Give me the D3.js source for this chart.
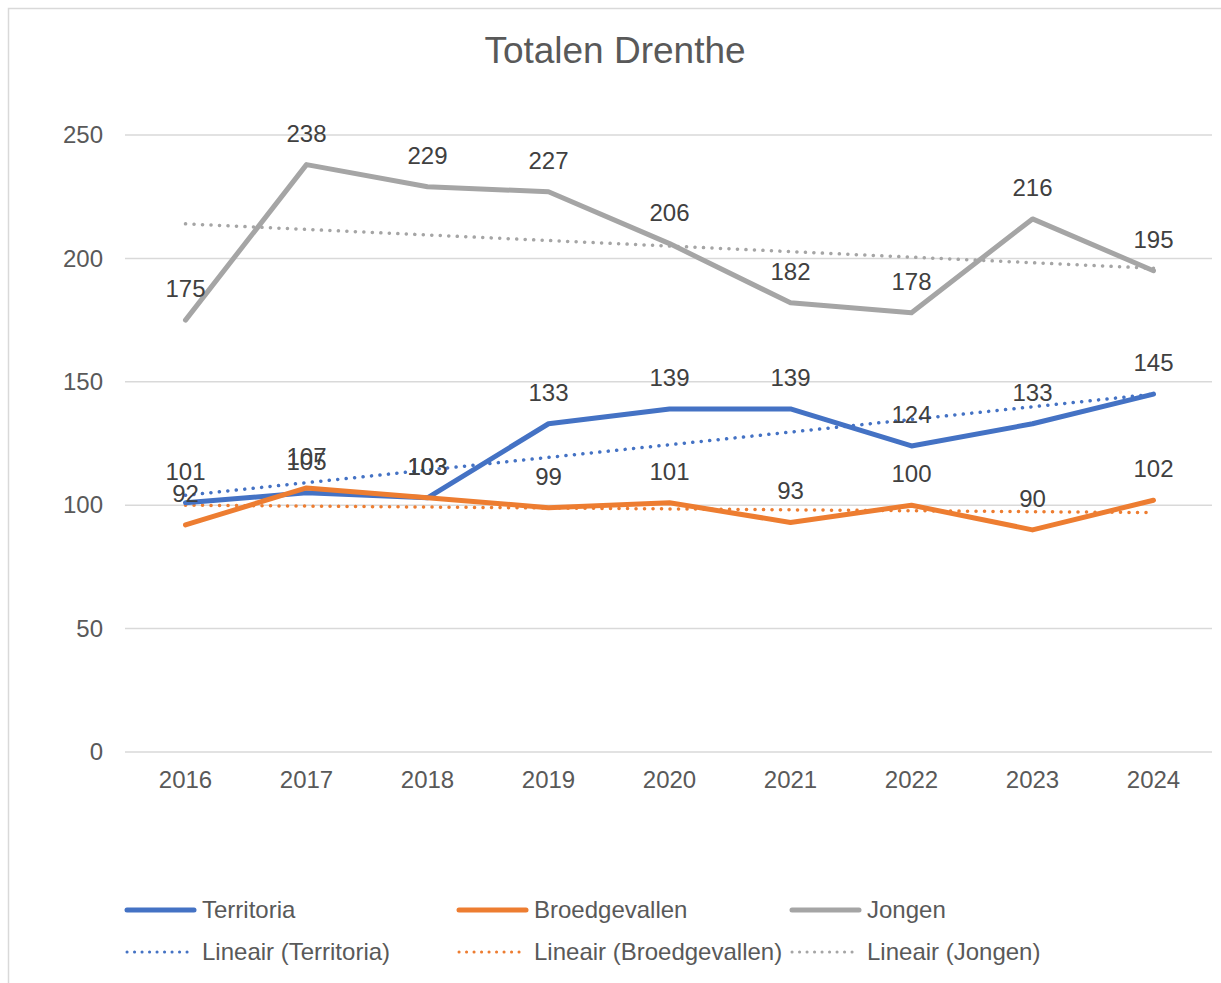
<!DOCTYPE html>
<html>
<head>
<meta charset="utf-8">
<script src="https://cdn.jsdelivr.net/npm/d3@7"></script>
<style>
  body { margin: 0; background: #fff; }
  svg { font-family: "Liberation Sans", Arial, sans-serif; }
</style>
</head>
<body>
<div id="chart-container"></div>
<script>
// Data
const years = ["2016", "2017", "2018", "2019", "2020", "2021", "2022", "2023", "2024"];
const territoria = [101, 105, 103, 133, 139, 139, 124, 133, 145];
const broedgevallen = [92, 107, 103, 99, 101, 93, 100, 90, 102];
const jongen = [175, 238, 229, 227, 206, 182, 178, 216, 195];
// trend line values at first and last year
const trendTerritoria = [104, 145];
const trendBroedgevallen = [100, 97];
const trendJongen = [214, 196];
const yTicks = [0, 50, 100, 150, 200, 250];

const series = [
  {name: "Territoria", values: territoria, trend: trendTerritoria, color: "#4472C4"},
  {name: "Broedgevallen", values: broedgevallen, trend: trendBroedgevallen, color: "#ED7D31"},
  {name: "Jongen", values: jongen, trend: trendJongen, color: "#A5A5A5"}
];

const W = 1221, H = 983;
const plot = {left: 125, right: 1214, top: 135, bottom: 752};
const fontSize = 24;
const font = "'Liberation Sans', Arial, sans-serif";

const svg = d3.select("#chart-container")
  .append("svg")
    .attr("width", W)
    .attr("height", H);

// chart border (only top and left are in view)
svg.append("rect")
  .attr("x", 8.5).attr("y", 8.5)
  .attr("width", 1300).attr("height", 1100)
  .attr("fill", "none")
  .attr("stroke", "#d9d9d9")
  .attr("stroke-width", 1.5);

// title
svg.append("text")
  .attr("x", 615).attr("y", 63)
  .attr("text-anchor", "middle")
  .attr("font-size", 37)
  .attr("fill", "#595959")
  .text("Totalen Drenthe");

// scales
const x = d3.scaleBand()
  .domain(years)
  .range([plot.left, plot.right]);

const y = d3.scaleLinear()
  .domain([0, 250])
  .range([plot.bottom, plot.top]);

const cx = d => x(d) + x.bandwidth() / 2;

// horizontal gridlines
svg.selectAll(".grid")
  .data(yTicks)
  .join("line")
  .attr("x1", plot.left)
  .attr("x2", plot.right - 2)
  .attr("y1", d => y(d))
  .attr("y2", d => y(d))
  .attr("stroke", "#d9d9d9")
  .attr("stroke-width", 1.5);

// y axis labels
const yAxis = d3.axisLeft(y).tickValues(yTicks).tickSize(0).tickPadding(22);
svg.append("g")
  .attr("transform", `translate(${plot.left},0)`)
  .call(yAxis)
  .call(g => g.select(".domain").remove())
  .selectAll("text")
    .attr("font-size", fontSize)
    .attr("font-family", font)
    .attr("fill", "#595959");

// x axis labels
const xAxis = d3.axisBottom(x).tickSize(0).tickPadding(19);
svg.append("g")
  .attr("transform", `translate(0,${plot.bottom})`)
  .call(xAxis)
  .call(g => g.select(".domain").remove())
  .selectAll("text")
    .attr("font-size", fontSize)
    .attr("font-family", font)
    .attr("fill", "#595959");

const line = d3.line()
  .x((d, i) => cx(years[i]))
  .y(d => y(d));

// trend lines (dotted)
series.forEach(s => {
  svg.append("line")
    .attr("x1", cx(years[0]))
    .attr("x2", cx(years[years.length - 1]))
    .attr("y1", y(s.trend[0]))
    .attr("y2", y(s.trend[1]))
    .attr("stroke", s.color)
    .attr("stroke-width", 3.5)
    .attr("stroke-linecap", "round")
    .attr("stroke-dasharray", "0.1 8.4");
});

// series lines
series.forEach(s => {
  svg.append("path")
    .datum(s.values)
    .attr("fill", "none")
    .attr("stroke", s.color)
    .attr("stroke-width", 5)
    .attr("stroke-linejoin", "round")
    .attr("stroke-linecap", "round")
    .attr("d", line);
});

// data labels
series.forEach(s => {
  svg.selectAll(null)
    .data(s.values)
    .join("text")
    .attr("x", (d, i) => cx(years[i]))
    .attr("y", d => y(d) - 23)
    .attr("text-anchor", "middle")
    .attr("font-size", fontSize)
    .attr("fill", "#404040")
    .text(d => d);
});

// legend
const legendCols = [125, 457, 790];
series.forEach((s, i) => {
  const lx = legendCols[i];
  const g1 = svg.append("g");
  g1.append("line")
    .attr("x1", lx + 2).attr("x2", lx + 69)
    .attr("y1", 910).attr("y2", 910)
    .attr("stroke", s.color)
    .attr("stroke-width", 5)
    .attr("stroke-linecap", "round");
  g1.append("text")
    .attr("x", lx + 77).attr("y", 918)
    .attr("font-size", fontSize)
    .attr("fill", "#595959")
    .text(s.name);

  const g2 = svg.append("g");
  g2.append("line")
    .attr("x1", lx + 2).attr("x2", lx + 69)
    .attr("y1", 952).attr("y2", 952)
    .attr("stroke", s.color)
    .attr("stroke-width", 3)
    .attr("stroke-linecap", "round")
    .attr("stroke-dasharray", "0.1 7.4");
  g2.append("text")
    .attr("x", lx + 77).attr("y", 960)
    .attr("font-size", fontSize)
    .attr("fill", "#595959")
    .text(`Lineair (${s.name})`);
});
</script>
</body>
</html>
